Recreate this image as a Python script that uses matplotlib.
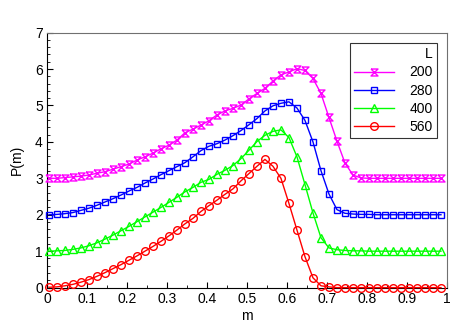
import numpy as np
import matplotlib
matplotlib.use("Agg")
from matplotlib import pyplot as plt
from matplotlib.path import Path

plt.rcParams['font.family'] = ['Liberation Sans', 'DejaVu Sans']

# m grid (50 points, step 0.02)
m = np.round(0.005 + 0.02 * np.arange(50), 3)

p200 = [3.00, 3.00, 3.02, 3.04, 3.06, 3.09, 3.14, 3.18, 3.25, 3.32,
        3.39, 3.50, 3.59, 3.69, 3.81, 3.91, 4.05, 4.25, 4.35, 4.46,
        4.58, 4.74, 4.85, 4.92, 5.01, 5.18, 5.33, 5.47, 5.67, 5.84,
        5.92, 6.01, 5.96, 5.74, 5.33, 4.67, 4.02, 3.42, 3.09, 3.01] + [3.0] * 10
p280 = [2.00, 2.01, 2.03, 2.06, 2.12, 2.18, 2.26, 2.35, 2.44, 2.54,
        2.65, 2.75, 2.87, 2.98, 3.10, 3.21, 3.32, 3.43, 3.59, 3.76,
        3.88, 3.95, 4.05, 4.17, 4.31, 4.47, 4.64, 4.85, 4.99, 5.06,
        5.10, 4.93, 4.59, 4.00, 3.21, 2.57, 2.14, 2.04, 2.02, 2.01,
        2.01] + [2.0] * 9
p400 = [1.00, 1.01, 1.02, 1.05, 1.09, 1.15, 1.23, 1.33, 1.44, 1.56,
        1.68, 1.81, 1.94, 2.07, 2.20, 2.34, 2.48, 2.63, 2.75, 2.89,
        2.97, 3.11, 3.22, 3.35, 3.54, 3.77, 4.01, 4.18, 4.29, 4.33,
        4.12, 3.59, 2.83, 2.05, 1.37, 1.09, 1.04, 1.02, 1.01, 1.01] + [1.0] * 10
p560 = [0.01, 0.02, 0.05, 0.09, 0.15, 0.22, 0.31, 0.41, 0.52, 0.63,
        0.75, 0.87, 1.00, 1.13, 1.27, 1.42, 1.58, 1.75, 1.90, 2.09,
        2.25, 2.40, 2.56, 2.71, 2.93, 3.13, 3.33, 3.52, 3.33, 3.00,
        2.31, 1.58, 0.85, 0.27, 0.05, 0.02] + [0.0] * 14

labels = ['200', '280', '400', '560']
colors = ['#ff00ff', '#0000ff', '#00ff00', '#ff0000']

# hourglass marker
hourglass = Path([(-1, 1), (1, 1), (-1, -1), (1, -1), (-1, 1)],
                 [Path.MOVETO, Path.LINETO, Path.LINETO, Path.LINETO, Path.LINETO])
markers = [hourglass, 's', '^', 'o']
msizes = [5, 5, 5.5, 5.5]

fig = plt.figure(figsize=(4.74, 3.36), dpi=100)
ax = fig.add_axes([0.099, 0.144, 0.844, 0.759])

for y, lab, c, mk, ms in zip([p200, p280, p400, p560], labels, colors, markers, msizes):
    ax.plot(m, y, color=c, lw=1.0, marker=mk, ms=ms, mfc='none', mec=c, mew=1.0,
            label=lab, clip_on=False, zorder=3)

ax.set_xlim(0, 1)
ax.set_ylim(0, 7)
ax.set_xticks(np.arange(0, 1.01, 0.1))
ax.set_xticklabels(['0', '0.1', '0.2', '0.3', '0.4', '0.5', '0.6', '0.7', '0.8', '0.9', '1'])
ax.set_yticks(range(8))
ax.set_xticks(np.arange(0, 1.0, 0.05), minor=True)
ax.set_yticks(np.arange(0, 7, 0.2), minor=True)
ax.tick_params(direction='in', labelsize=10, length=4, width=0.8, pad=3)
ax.tick_params(which='minor', direction='in', length=2, width=0.6)
for s in ['top', 'right']:
    ax.spines[s].set_color('#707070')
ax.set_xlabel('m', fontsize=10, labelpad=2)
ax.set_ylabel('P(m)', fontsize=10, labelpad=8)

leg = ax.legend(title='L', loc='upper right', bbox_to_anchor=(0.975, 0.959),
                borderaxespad=0, fontsize=10, title_fontsize=10, frameon=True,
                fancybox=False, edgecolor='black', handlelength=2.9,
                alignment='right', borderpad=0.3, labelspacing=0.3,
                handletextpad=1.1)
leg.get_frame().set_linewidth(0.8)
leg.set_zorder(5)

fig.savefig('out.png', dpi=100)
